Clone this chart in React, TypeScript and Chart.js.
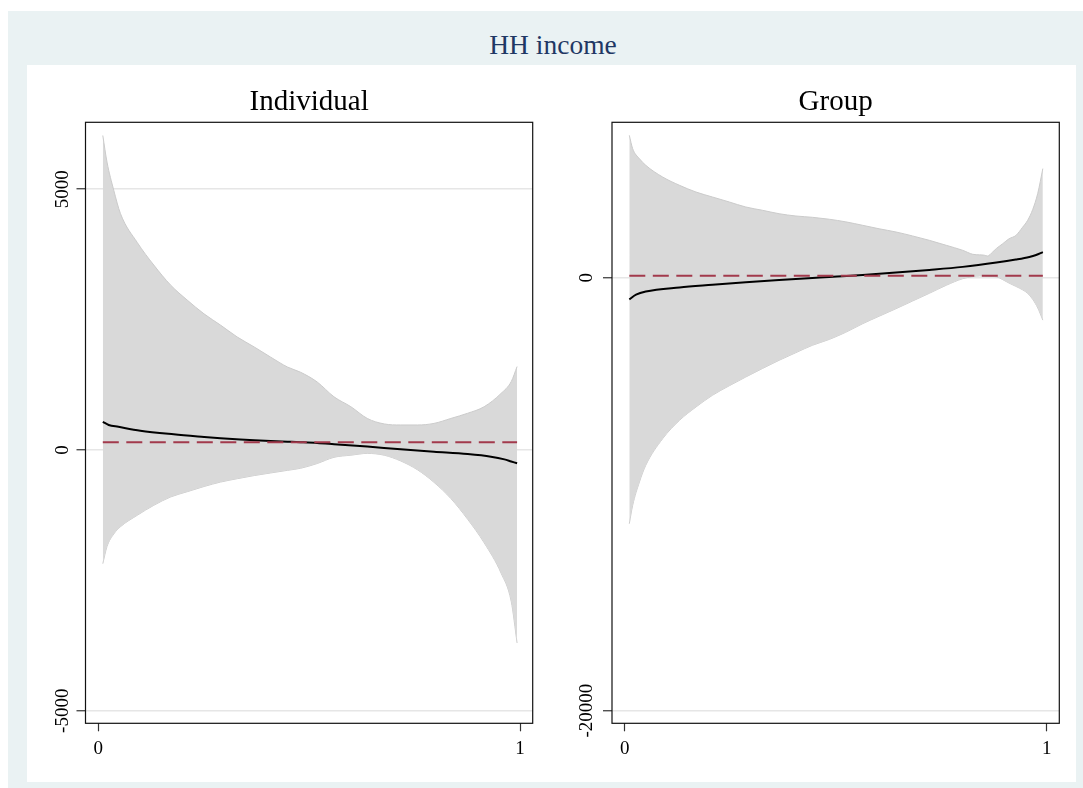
import React, { useEffect, useRef } from "react";
import { Chart, registerables } from "chart.js";

Chart.register(...registerables);

// ---------- data ----------
const mainTitle = "HH income";
const panelTitles = ["Individual", "Group"];

const xTickValues = [0, 1];
const indYTickValues = [-5000, 0, 5000];
const grpYTickValues = [-20000, 0];

// Individual panel: confidence band
const indBandX = [0.011, 0.021, 0.037, 0.053, 0.093, 0.132, 0.172, 0.211, 0.251, 0.29, 0.33, 0.37, 0.409, 0.449, 0.48, 0.519, 0.559, 0.599, 0.638, 0.678, 0.717, 0.757, 0.796, 0.836, 0.876, 0.915, 0.955, 0.979, 0.993];
const indUpper = [6030, 5520, 4980, 4530, 3975, 3545, 3160, 2875, 2610, 2395, 2165, 1975, 1780, 1590, 1490, 1305, 1020, 830, 605, 500, 480, 480, 510, 605, 705, 830, 1085, 1310, 1600];
const indLower = [-2180, -1850, -1610, -1470, -1250, -1060, -900, -800, -700, -615, -550, -490, -440, -390, -350, -260, -140, -100, -65, -100, -210, -380, -620, -930, -1330, -1780, -2360, -2900, -3700];
// Individual panel: point estimate
const indMeanX = [0.011, 0.025, 0.048, 0.1, 0.179, 0.251, 0.29, 0.337, 0.37, 0.449, 0.48, 0.519, 0.559, 0.638, 0.717, 0.796, 0.876, 0.931, 0.963, 0.979, 0.993];
const indMean = [540, 480, 445, 370, 300, 250, 225, 200, 185, 160, 150, 135, 112, 65, 15, -32, -77, -128, -180, -220, -255];
const indRef = 148;

// Group panel: confidence band
const grpBandX = [0.011, 0.019, 0.035, 0.05, 0.09, 0.13, 0.169, 0.208, 0.248, 0.287, 0.327, 0.366, 0.406, 0.445, 0.485, 0.524, 0.564, 0.603, 0.643, 0.682, 0.722, 0.762, 0.801, 0.825, 0.841, 0.852, 0.86, 0.872, 0.881, 0.896, 0.911, 0.927, 0.943, 0.955, 0.967, 0.979, 0.991];
const grpUpper = [6577, 5959, 5497, 5192, 4651, 4268, 3958, 3728, 3497, 3266, 3113, 2956, 2850, 2790, 2700, 2580, 2420, 2260, 2111, 1930, 1727, 1497, 1266, 1081, 1055, 1040, 1002, 1187, 1350, 1570, 1800, 1950, 2330, 2650, 3150, 3900, 5040];
const grpLower = [-11363, -10513, -9437, -8665, -7437, -6587, -5972, -5432, -4990, -4587, -4190, -3815, -3460, -3122, -2850, -2520, -2125, -1780, -1432, -1080, -721, -351, -46, 50, 79, 75, 70, 55, 40, -90, -250, -400, -560, -720, -1000, -1400, -1960];
// Group panel: point estimate
const grpMeanX = [0.011, 0.027, 0.05, 0.13, 0.208, 0.287, 0.366, 0.445, 0.485, 0.516, 0.564, 0.643, 0.722, 0.801, 0.881, 0.927, 0.959, 0.975, 0.991];
const grpMean = [-998, -785, -640, -450, -330, -215, -110, -15, 30, 70, 130, 240, 360, 500, 700, 840, 960, 1050, 1180];
const grpRef = 92;

// ---------- styling ----------
const SERIF = "'Liberation Serif', 'Times New Roman', serif";
const BAND_FILL = "#d9d9d9";
const BAND_EDGE = "#cbcbcb";
const REF_COLOR = "#a23a4c";
const GRID_COLOR = "#e6e6e6";
const TICK_COLOR = "#333333";

const framePlugin = {
  id: "frame",
  afterDraw(chart: any) {
    const { ctx, chartArea: a } = chart;
    ctx.save();
    ctx.strokeStyle = "#111111";
    ctx.lineWidth = 1.2;
    ctx.strokeRect(a.left, a.top, a.right - a.left, a.bottom - a.top);
    ctx.restore();
  },
};

type PanelSpec = {
  title: string;
  bandX: number[];
  upper: number[];
  lower: number[];
  meanX: number[];
  mean: number[];
  ref: number;
  yTicks: number[];
  yMin: number;
  yMax: number;
  yAxisWidth: number;
  rightPad: number;
  tickPad: number;
};

function toPts(xs: number[], ys: number[]) {
  return xs.map((x, i) => ({ x, y: ys[i] }));
}

function buildConfig(p: PanelSpec): any {
  const refPts = [
    { x: p.bandX[0], y: p.ref },
    { x: p.bandX[p.bandX.length - 1], y: p.ref },
  ];
  return {
    type: "line",
    data: {
      datasets: [
        {
          label: "lower",
          data: toPts(p.bandX, p.lower),
          borderColor: BAND_EDGE,
          borderWidth: 1,
          pointRadius: 0,
          fill: false,
          cubicInterpolationMode: "monotone",
          order: 4,
        },
        {
          label: "upper",
          data: toPts(p.bandX, p.upper),
          borderColor: BAND_EDGE,
          borderWidth: 1,
          backgroundColor: BAND_FILL,
          pointRadius: 0,
          fill: "-1",
          cubicInterpolationMode: "monotone",
          order: 3,
        },
        {
          label: "estimate",
          data: toPts(p.meanX, p.mean),
          borderColor: "#000000",
          borderWidth: 2,
          pointRadius: 0,
          fill: false,
          cubicInterpolationMode: "monotone",
          order: 2,
        },
        {
          label: "reference",
          data: refPts,
          borderColor: REF_COLOR,
          borderWidth: 2,
          borderDash: [16, 7.5],
          pointRadius: 0,
          fill: false,
          order: 1,
        },
      ],
    },
    options: {
      responsive: false,
      animation: false,
      devicePixelRatio: 1,
      layout: { padding: { left: 0, right: p.rightPad, top: 0, bottom: 0 } },
      plugins: {
        legend: { display: false },
        tooltip: { enabled: false },
        title: {
          display: true,
          fullSize: false,
          text: p.title,
          color: "#000000",
          font: { family: SERIF, size: 29, weight: "normal", lineHeight: 1.1 },
          padding: { top: 21, bottom: 4.4 },
        },
      },
      scales: {
        x: {
          type: "linear",
          min: -0.03,
          max: 1.03,
          afterBuildTicks: (s: any) => {
            s.ticks = xTickValues.map((v) => ({ value: v }));
          },
          afterFit: (s: any) => {
            s.height = 58.7;
          },
          grid: {
            drawOnChartArea: false,
            drawTicks: true,
            tickLength: 8,
            tickColor: TICK_COLOR,
            tickWidth: 1.2,
          },
          border: { display: false },
          ticks: {
            color: "#000000",
            padding: 6,
            maxRotation: 0,
            font: { family: SERIF, size: 19 },
            callback: (v: any) => String(v),
          },
        },
        y: {
          type: "linear",
          min: p.yMin,
          max: p.yMax,
          afterBuildTicks: (s: any) => {
            s.ticks = p.yTicks.map((v) => ({ value: v }));
          },
          afterFit: (s: any) => {
            s.width = p.yAxisWidth;
          },
          grid: {
            color: GRID_COLOR,
            lineWidth: 1.5,
            drawTicks: true,
            tickLength: 9,
            tickColor: TICK_COLOR,
            tickWidth: 1.2,
          },
          border: { display: false },
          ticks: {
            color: "#000000",
            minRotation: 90,
            maxRotation: 90,
            crossAlign: "center",
            padding: p.tickPad,
            font: { family: SERIF, size: 19 },
            callback: (v: any) => String(v),
          },
        },
      },
    },
    plugins: [framePlugin],
  };
}

function Panel(props: { spec: PanelSpec; left: number; width: number }) {
  const ref = useRef<HTMLCanvasElement | null>(null);
  useEffect(() => {
    if (!ref.current) return;
    const chart = new Chart(ref.current, buildConfig(props.spec));
    return () => chart.destroy();
  }, []);
  return (
    <canvas
      ref={ref}
      width={props.width}
      height={717}
      style={{ position: "absolute", left: props.left, top: 65, width: props.width, height: 717 }}
    />
  );
}

const indSpec: PanelSpec = {
  title: panelTitles[0],
  bandX: indBandX,
  upper: indUpper,
  lower: indLower,
  meanX: indMeanX,
  mean: indMean,
  ref: indRef,
  yTicks: indYTickValues,
  yMin: -5240,
  yMax: 6283,
  yAxisWidth: 58.5,
  rightPad: 20.3,
  tickPad: -8.4,
};

const grpSpec: PanelSpec = {
  title: panelTitles[1],
  bandX: grpBandX,
  upper: grpUpper,
  lower: grpLower,
  meanX: grpMeanX,
  mean: grpMean,
  ref: grpRef,
  yTicks: grpYTickValues,
  yMin: -20582,
  yMax: 7178,
  yAxisWidth: 59,
  rightPad: 16.7,
  tickPad: -10.6,
};

export default function App() {
  return (
    <div style={{ position: "absolute", left: 0, top: 0, width: 1083, height: 788, overflow: "hidden" }}>
      <div style={{ position: "absolute", left: 8, top: 11, width: 1075, height: 777, background: "#eaf2f3" }} />
      <div style={{ position: "absolute", left: 27, top: 65, width: 1049, height: 717, background: "#ffffff" }} />
      <div
        style={{
          position: "absolute",
          left: 403,
          width: 300,
          top: 30,
          height: 30,
          lineHeight: "30px",
          textAlign: "center",
          fontFamily: SERIF,
          fontSize: 27.5,
          color: "#1f3864",
        }}
      >
        {mainTitle}
      </div>
      <Panel spec={indSpec} left={27} width={526} />
      <Panel spec={grpSpec} left={553} width={523} />
    </div>
  );
}
